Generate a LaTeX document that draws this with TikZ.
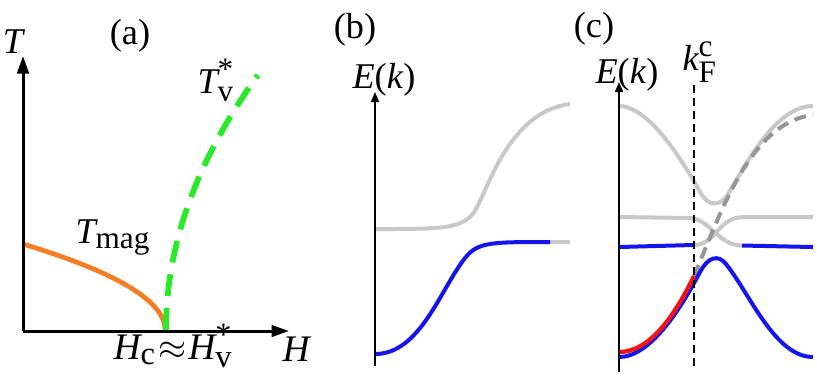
\documentclass[tikz,border=0pt]{standalone}
\usepackage{amsmath}
\usepackage{fontspec}
\setmainfont{Liberation Serif}
\usepackage{tikz}
\usetikzlibrary{arrows.meta,positioning}
\DeclareMathSizes{14.5}{14.5}{12.5}{10}
\DeclareMathSizes{15}{15}{13}{10}
\definecolor{bandgray}{RGB}{200,200,200}
\definecolor{banddark}{RGB}{150,150,150}
\definecolor{bandblue}{RGB}{20,20,235}
\definecolor{bandred}{RGB}{240,20,20}
\definecolor{magorange}{RGB}{245,125,35}
\definecolor{vgreen}{RGB}{40,235,40}
\tikzset{
    lab/.style={font=\fontsize{14.5}{17}\selectfont, inner sep=0pt},
    labH/.style={font=\fontsize{15}{18}\selectfont, inner sep=0pt},
    axisA/.style={line width=1.2pt, -{Triangle[length=7pt,width=4.6pt]}},
    axisB/.style={line width=0.7pt, -{Triangle[length=4pt,width=3.2pt]}},
    bandG/.style={line width=1.6pt, bandgray},
    bandB/.style={line width=1.6pt, bandblue},
    bandR/.style={line width=1.7pt, bandred},
    bandD/.style={line width=1.6pt, banddark, dash pattern=on 4.8pt off 2.8pt},
    kline/.style={line width=0.7pt, dash pattern=on 3.2pt off 2pt},
}
\begin{document}
\begin{tikzpicture}[x=0.4pt, y=-0.4pt]
    \useasboundingbox (0,0) rectangle (817,383);

    % (a) phase diagram
    \coordinate (Oa) at (23,331);
    \coordinate (Ta) at (23,56);
    \coordinate (Ha) at (289,331);
    \node[lab, anchor=base] (pa) at (130,44) {(a)};
    \node[lab, anchor=base] (Tlab) at (13,53) {$\textit{T}$};
    \node[labH, anchor=base west] (Hlab) at (282,361) {$\textit{H}$};
    \node[labH, anchor=base west] (Hclab) at (113,359) {$\textit{H}_{\text{c}}\mkern1mu{\approx}\mkern1mu\textit{H}_{\text{v}}^{\text{*}}$};
    \node[lab, anchor=base west] (Tvlab) at (197,93) {$\textit{T}_{\text{v}}^{\text{*}}$};
    \node[lab, anchor=base west] (Tmaglab) at (75,243) {$\textit{T}_{\text{mag}}$};
    \draw[line width=1.9pt, magorange] plot[domain=1:0, samples=60] ({23+142*(1-\x*\x)}, {330-86*\x});
    \draw[line width=2.3pt, vgreen, dash pattern=on 8.8pt off 4.8pt] plot[domain=0:1, samples=60] ({166+92*\x*\x}, {330-255*\x});
    \draw[axisA] (Oa) -- (Ta);
    \draw[axisA] (Oa) -- (Ha);

    % (b) bands
    \coordinate (Ob) at (375,366);
    \coordinate (Eb) at (375,92);
    \node[lab, anchor=base] (pb) at (355,38) {(b)};
    \node[lab, anchor=base] (Eblab) at (384,88) {\textit{E}(\textit{k})};
    \draw[bandG] (375,229) .. controls (440,229) and (458,229) .. (472,215)
        .. controls (486,199) and (505,112) .. (570,104);
    \draw[bandG] (550,242) -- (570,242);
    \draw[bandB] (375,354) .. controls (420,354) and (440,290) .. (465,258)
        .. controls (478,242) and (490,242) .. (550,242);
    \draw[axisB] (Ob) -- (Eb);

    % (c) bands
    \coordinate (Oc) at (619,372);
    \coordinate (Ec) at (619,82);
    \coordinate (kFtop) at (694,85);
    \coordinate (kFbot) at (694,368);
    \node[lab, anchor=base] (pc) at (594,37) {(c)};
    \node[lab, anchor=base] (Eclab) at (627,83) {\textit{E}(\textit{k})};
    \node[lab, anchor=base west] (kFlab) at (682,70) {$\textit{k}_{\text{F}}^{\text{c}}$};
    \draw[bandG] (619,106) .. controls (650,106) and (685,165) .. (700,192)
        .. controls (708,207) and (720,207) .. (728,194)
        .. controls (745,166) and (775,106) .. (813,106);
    \draw[bandG] (619,217) -- (690,218) .. controls (710,219) and (718,245.5) .. (742,245.5);
    \draw[bandG] (693,245) .. controls (718,245) and (716,217) .. (745,217) -- (813,217);
    \draw[bandB] (619,247) -- (693,245);
    \draw[bandB] (742,245.5) -- (813,247);
    \draw[bandD] (694,276) .. controls (720,215) and (750,122) .. (813,115);
    \draw[bandB] (619,357) .. controls (650,357) and (680,310) .. (700,272)
        .. controls (708,257) and (718,254) .. (726,264)
        .. controls (750,294) and (775,357) .. (813,357);
    \draw[bandR] (619,352) .. controls (650,352) and (675,315) .. (694,276);
    \draw[kline] (kFtop) -- (kFbot);
    \draw[axisB] (Oc) -- (Ec);
\end{tikzpicture}
\end{document}
